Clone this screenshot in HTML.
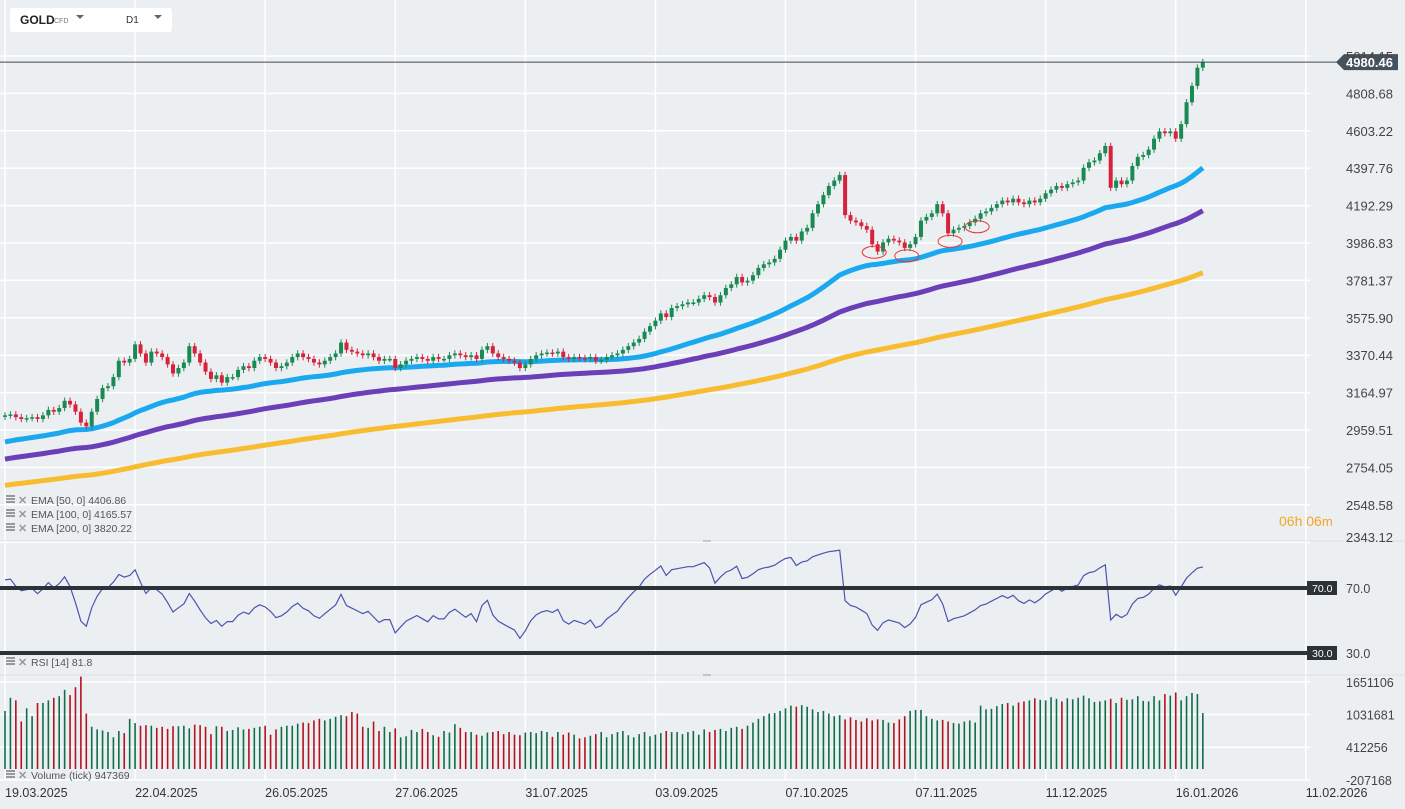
<!DOCTYPE html>
<html><head><meta charset="utf-8"><style>
body{margin:0;background:#eceff2;font-family:"Liberation Sans",sans-serif;}
#wrap{position:relative;width:1405px;height:809px;overflow:hidden;background:#eceff2}
svg{position:absolute;left:0;top:0}
</style></head><body>
<div id="wrap">
<svg id="chart" width="1405" height="809"></svg>
</div>
<script>
const closes=[3040,3045,3030,3020,3025,3030,3020,3040,3070,3060,3080,3120,3100,3060,3000,2980,3060,3130,3190,3200,3250,3340,3330,3350,3430,3380,3330,3390,3380,3360,3320,3270,3300,3330,3420,3380,3330,3280,3240,3260,3220,3250,3250,3290,3310,3300,3340,3360,3350,3330,3300,3310,3330,3360,3380,3360,3350,3330,3320,3340,3360,3380,3440,3400,3390,3380,3370,3380,3360,3340,3350,3350,3300,3320,3340,3350,3360,3350,3340,3360,3350,3350,3370,3380,3370,3360,3370,3350,3400,3420,3380,3360,3350,3340,3330,3300,3320,3350,3370,3380,3385,3380,3390,3360,3350,3360,3355,3350,3360,3340,3345,3360,3370,3380,3400,3420,3440,3460,3500,3530,3560,3600,3580,3630,3640,3650,3660,3660,3680,3700,3690,3660,3700,3740,3760,3800,3770,3780,3810,3850,3870,3880,3900,3950,4000,4020,4000,4050,4070,4150,4200,4250,4300,4330,4360,4140,4110,4100,4080,4060,3980,3940,3990,4010,4000,3990,3960,3980,4020,4110,4130,4150,4200,4150,4040,4060,4070,4080,4100,4120,4150,4160,4180,4200,4220,4210,4230,4210,4200,4220,4210,4230,4260,4280,4300,4290,4310,4320,4330,4400,4430,4440,4480,4520,4290,4330,4310,4330,4410,4460,4470,4500,4560,4600,4590,4600,4560,4640,4760,4850,4950,4980.46];
const volumesK=[1100,1350,1300,900,1150,1000,1250,1250,1300,1350,1380,1500,1400,1550,1750,1050,800,750,730,700,600,720,680,950,870,820,830,820,780,800,760,810,810,820,770,840,830,800,660,810,800,720,740,790,750,760,780,800,820,650,750,800,820,820,860,880,870,920,950,920,950,990,1020,1000,1080,1050,800,780,900,720,800,700,770,600,620,740,700,760,700,640,610,720,690,850,780,700,700,650,630,690,700,720,660,700,650,640,690,700,680,720,700,610,700,650,690,650,580,600,630,660,700,600,660,700,720,640,600,660,700,620,650,680,720,700,700,660,700,720,650,750,700,740,760,720,780,800,760,820,880,950,1000,1050,1060,1100,1150,1200,1180,1210,1180,1130,1080,1100,1050,1000,1020,940,980,930,900,960,920,940,930,880,870,940,1000,1100,1120,1120,1000,950,920,930,900,870,860,900,920,880,1200,1130,1140,1190,1230,1250,1200,1260,1280,1300,1340,1310,1300,1360,1330,1280,1340,1320,1350,1390,1340,1270,1280,1300,1330,1250,1350,1310,1320,1380,1290,1280,1380,1300,1420,1390,1450,1300,1380,1440,1420,1060];
const priceTicks=[5014.15,4808.68,4603.22,4397.76,4192.29,3986.83,3781.37,3575.90,3370.44,3164.97,2959.51,2754.05,2548.58,2343.12];
const dateLabels=["19.03.2025","22.04.2025","26.05.2025","27.06.2025","31.07.2025","03.09.2025","07.10.2025","07.11.2025","11.12.2025","16.01.2026","11.02.2026"];
const dateIdx=[0,24,48,72,96,120,144,168,192,216,240];
const volTicks=[1651106,1031681,412256,-207168];
const emaSeeds=[2888,2795,2652];
const emaPeriods=[50,100,200];
const emaLabels=["EMA [50, 0] 4406.86","EMA [100, 0] 4165.57","EMA [200, 0] 3820.22"];
const annotIdx=[160,166,174,179];
const rsiSeedGain=15, rsiSeedLoss=5;

const svg=document.getElementById('chart');
const NS='http://www.w3.org/2000/svg';
function mk(t,a,p){const e=document.createElementNS(NS,t);for(const k in a)e.setAttribute(k,a[k]);(p||svg).appendChild(e);return e;}
const px=i=>5+i*5.42;
const py=p=>56+(5014.15-p)/205.46*37.4;
const ry=v=>588+(70-v)*65/40;
const vy=v=>769-v*32.7/619425;

const g=mk('g',{});

dateIdx.forEach(i=>{mk('line',{x1:px(i),x2:px(i),y1:0,y2:780,stroke:'#fff','stroke-width':1.5},g);});
priceTicks.forEach(p=>mk('line',{x1:0,x2:1310,y1:py(p),y2:py(p),stroke:'#fff','stroke-width':1.5},g));
volTicks.forEach(v=>mk('line',{x1:0,x2:1310,y1:vy(v),y2:vy(v),stroke:'#fff','stroke-width':1.5},g));
mk('line',{x1:0,x2:1405,y1:541,y2:541,stroke:'#dde1e5'},g);
mk('line',{x1:0,x2:1405,y1:675,y2:675,stroke:'#dde1e5'},g);
mk('line',{x1:703,x2:711,y1:541,y2:541,stroke:'#999'},g);
mk('line',{x1:703,x2:711,y1:675,y2:675,stroke:'#999'},g);

const emaColors=['#1aa9ef','#6a3fb8','#f8bc30'];
emaPeriods.forEach((n,k)=>{
  let e=emaSeeds[k];const a=2/(n+1);const pts=[];
  closes.forEach((c,i)=>{e=e+a*(c-e);pts.push(px(i).toFixed(1)+','+py(e).toFixed(1));});
  const pl=mk('polyline',{points:pts.join(' '),fill:'none',stroke:emaColors[k],'stroke-width':5,'stroke-linejoin':'round'});
  
  
});

const cg=mk('g',{});

closes.forEach((c,i)=>{
  const o=i?closes[i-1]:c-8;const up=c>=o;const col=up?'#1a8a55':'#d8213b';
  const hi=Math.max(o,c)+18,lo=Math.min(o,c)-18;
  mk('line',{x1:px(i),x2:px(i),y1:py(hi),y2:py(lo),stroke:col,'stroke-width':1},cg);
  const t=py(Math.max(o,c)),b=py(Math.min(o,c));
  const r=mk('rect',{x:px(i)-2,y:t,width:4,height:Math.max(1.5,b-t),fill:col},cg);
  
  
});
annotIdx.forEach(i=>{const el=mk('ellipse',{cx:px(i)+2,cy:py(closes[i])+8,rx:12,ry:6,fill:'none',stroke:'#e33','stroke-width':1});
 });

mk('line',{x1:0,x2:1338,y1:py(4980.46),y2:py(4980.46),stroke:'#3d4a55','stroke-width':1});
const tag=mk('path',{d:`M1336 ${py(4980.46)} l8 -8 h54 v16 h-54 z`,fill:'#44525e'});


priceTicks.forEach((p,k)=>{const t=mk('text',{x:1346,y:(k==priceTicks.length-1?537:py(p))+5,'font-size':13,fill:'#444'});t.textContent=p.toFixed(2);
 });
const pt=mk('text',{x:1346,y:py(4980.46)+5,'font-size':13,'font-weight':'bold',fill:'#fff'});pt.textContent='4980.46';
dateLabels.forEach((d,k)=>{const t=mk('text',{x:px(dateIdx[k]),y:797,'font-size':12.5,fill:'#333'});t.textContent=d;
 });
volTicks.forEach(v=>{const t=mk('text',{x:1346,y:vy(v)+5,'font-size':12.5,fill:'#444'});t.textContent=v;
 });

let ag=rsiSeedGain,al=rsiSeedLoss;const rp=[px(0).toFixed(1)+','+ry(100-100/(1+ag/al)).toFixed(1)];
for(let i=1;i<closes.length;i++){const d=closes[i]-closes[i-1];const gn=Math.max(d,0),ls=Math.max(-d,0);
 ag=(ag*13+gn)/14;al=(al*13+ls)/14;
 const r=al==0?100:100-100/(1+ag/al);rp.push(px(i).toFixed(1)+','+ry(r).toFixed(1));}
const rl=mk('polyline',{points:rp.join(' '),fill:'none',stroke:'#4a54b0','stroke-width':1.2});

[[70,'70.0'],[30,'30.0']].forEach(([v,s])=>{
 const l=mk('line',{x1:0,x2:1307,y1:ry(v),y2:ry(v),stroke:'#2b3338','stroke-width':4});
 
 mk('rect',{x:1307,y:ry(v)-7,width:30,height:14,fill:'#2b3338'});
 const t=mk('text',{x:1312,y:ry(v)+4,'font-size':10.5,fill:'#fff'});t.textContent=s;
 const t2=mk('text',{x:1346,y:ry(v)+5,'font-size':12.5,fill:'#444'});t2.textContent=s;});

const vg=mk('g',{});
volumesK.forEach((v,i)=>{if(i>=closes.length)return;const o=i?closes[i-1]:closes[i]-8;
 const b=mk('rect',{x:px(i)-0.8,y:vy(v*1000),width:1.6,height:vy(0)-vy(v*1000),fill:closes[i]>=o?'#0e6e48':'#b3121f'},vg);
 });

function legend(y,txt,name){const gg=mk('g',{});
 mk('rect',{x:6,y:y-7,width:9,height:2,fill:'#999'},gg);mk('rect',{x:6,y:y-4,width:9,height:2,fill:'#999'},gg);mk('rect',{x:6,y:y-1,width:9,height:2,fill:'#999'},gg);
 const x=mk('text',{x:18,y:y+2,'font-size':11,fill:'#999','font-weight':'bold'},gg);x.textContent='✕';
 const t=mk('text',{x:31,y:y+2,'font-size':10.5,fill:'#555'},gg);t.textContent=txt;}
emaLabels.forEach((s,k)=>legend(502+k*14,s,'ema-legend-'+emaPeriods[k]));
legend(664,'RSI [14] 81.8','rsi-legend');
legend(777,'Volume (tick) 947369','volume-legend');
const tm=mk('text',{x:1279,y:526,'font-size':14,fill:'#f5a623'});tm.innerHTML='06h <tspan>06</tspan><tspan font-size="13">m</tspan>';


const hd=mk('g',{});
mk('rect',{x:10,y:8,width:162,height:24,rx:3,fill:'#fff'},hd);
let t=mk('text',{x:20,y:24,'font-size':12,'font-weight':'bold',fill:'#222'},hd);t.textContent='GOLD';
t=mk('text',{x:54,y:23,'font-size':7,fill:'#777'},hd);t.textContent='CFD';
mk('path',{d:'M76 15 l4 4 l4 -4 z',fill:'#666'},hd);
t=mk('text',{x:126,y:23,'font-size':10,fill:'#333'},hd);t.textContent='D1';
mk('path',{d:'M154 15 l4 4 l4 -4 z',fill:'#666'},hd);
</script>
</body></html>
